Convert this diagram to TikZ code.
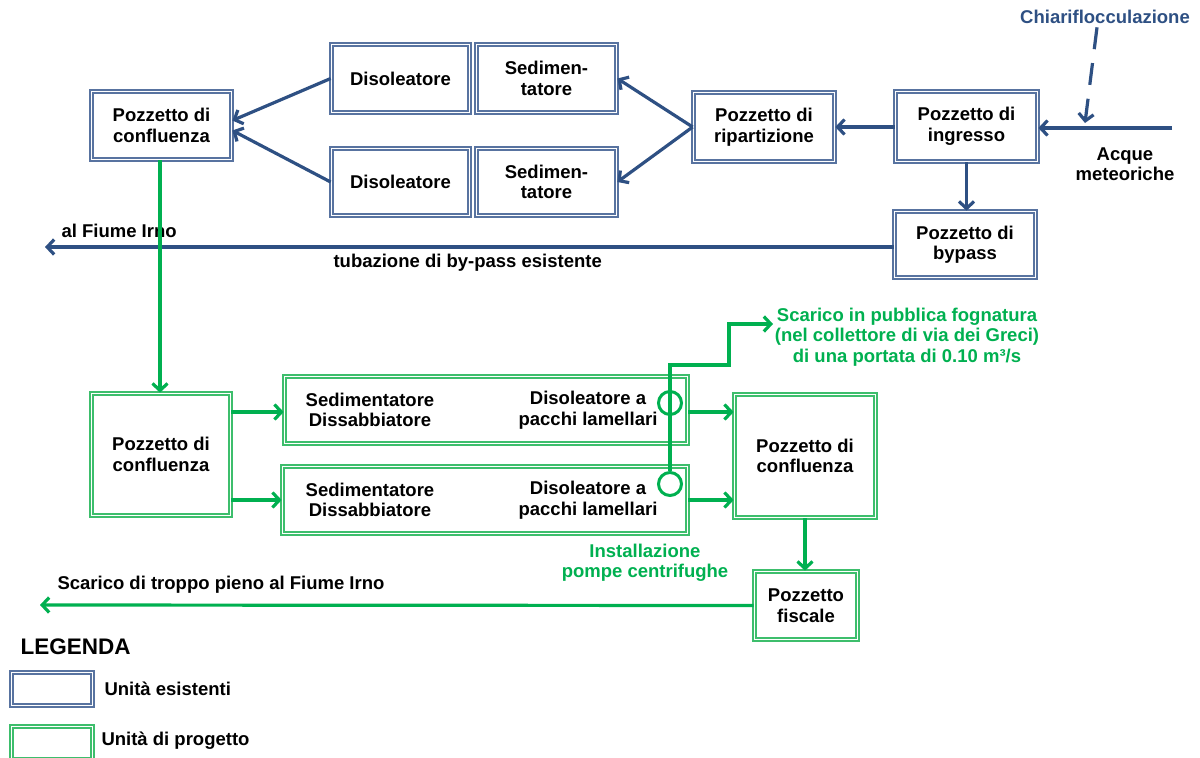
\documentclass[tikz,border=0pt]{standalone}
\usepackage{fontspec}
\setmainfont{Liberation Sans}
\usetikzlibrary{arrows.meta}
\definecolor{oldline}{HTML}{2E5083}
\definecolor{oldframe}{HTML}{5873A0}
\definecolor{newline}{HTML}{00B050}
\definecolor{newframe}{HTML}{3DBE6C}
\tikzset{
  unitbox/.style={double=white, double distance=1.2pt, line width=1.7pt, inner sep=2pt},
  oldbox/.style={unitbox, draw=oldframe},
  newbox/.style={unitbox, draw=newframe},
  oldflow/.style={draw=oldline, line width=3.2pt, -{Straight Barb[length=7pt,width=15pt]}},
  newflow/.style={draw=newline, line width=3.2pt, -{Straight Barb[length=7pt,width=15pt]}},
  pump/.style={circle, draw=newline, line width=3pt, minimum size=23pt, inner sep=0pt}
}
\begin{document}
\begin{tikzpicture}[x=1pt, y=-1pt,
  every node/.style={font=\bfseries\fontsize{18.5}{20.5}\selectfont, align=center}]
  \useasboundingbox (0,0) rectangle (1200,758);
  % unita esistenti
  \node[oldbox, minimum width=140, minimum height=68] (conf1) at (161.5,125.5) {Pozzetto di\\confluenza};
  \node[oldbox, minimum width=138, minimum height=68] (diso1) at (400.5,78.5) {Disoleatore};
  \node[oldbox, minimum width=140, minimum height=68] (sed1) at (546.5,78.5) {Sedimen-\\tatore};
  \node[oldbox, minimum width=138, minimum height=67] (diso2) at (400.5,182) {Disoleatore};
  \node[oldbox, minimum width=140, minimum height=67] (sed2) at (546.5,182) {Sedimen-\\tatore};
  \node[oldbox, minimum width=141, minimum height=69] (ripart) at (764,127) {Pozzetto di\\ripartizione};
  \node[oldbox, minimum width=142, minimum height=70] (ingresso) at (966.5,126.5) {Pozzetto di\\ingresso};
  \node[oldbox, minimum width=141, minimum height=66] (bypass) at (965,244.5) {Pozzetto di\\bypass};
  \node[text=oldline] (chiari) at (1105,17) {Chiariflocculazione};
  \node (meteo) at (1125,164) {Acque\\meteoriche};
  \coordinate (inlet) at (1172,128);
  \coordinate (dose) at (1085,123);
  \coordinate (irno1) at (45,247);
  \draw[oldflow] (inlet) -- (ingresso.east |- inlet);
  \draw[oldflow, dash pattern=on 22pt off 14pt] ([xshift=-8pt]chiari.south) -- (dose);
  \draw[oldflow] (ingresso.west |- ripart) -- (ripart.east);
  \draw[oldflow] (ingresso.south) -- (ingresso.south |- bypass.north);
  \draw[oldflow] (ripart.west) -- (sed1.east);
  \draw[oldflow] (ripart.west) -- (sed2.east);
  \draw[oldflow] (diso1.west) -- ([yshift=5pt]conf1.east);
  \draw[oldflow] (diso2.west) -- ([yshift=-5pt]conf1.east);
  \draw[oldflow] (bypass.west |- irno1) -- (irno1);
  \node[anchor=west] (irnolbl) at (58,231) {al Fiume Irno};
  \node[anchor=west] (bypasslbl) at (330,263) {tubazione di by-pass esistente};
  % unita di progetto
  \node[newbox, minimum width=139, minimum height=122] (conf2) at (161,454.5) {Pozzetto di\\confluenza};
  \node[newbox, minimum width=403, minimum height=67] (lam1) at (486,410) {};
  \node[newbox, minimum width=405, minimum height=67] (lam2) at (485,500) {};
  \node (sedlbl1) at (370,410) {Sedimentatore\\Dissabbiatore};
  \node (sedlbl2) at (370,500) {Sedimentatore\\Dissabbiatore};
  \node (dislbl1) at (588,410) {Disoleatore a\\pacchi lamellari};
  \node (dislbl2) at (588,500) {Disoleatore a\\pacchi lamellari};
  \node[newbox, minimum width=141, minimum height=123] (conf3) at (805,456) {Pozzetto di\\confluenza};
  \node[newbox, minimum width=103, minimum height=68] (fiscale) at (806,605.5) {Pozzetto\\fiscale};
  \node[pump] (pump1) at (670,403) {};
  \node[pump] (pump2) at (670,484) {};
  \coordinate (fogna) at (773,324);
  \coordinate (irno2) at (40,605);
  \draw[newflow] (conf1.south -| 160,0) -- (conf2.north -| 160,0);
  \draw[newflow] (conf2.east |- 0,412) -- (lam1.west |- 0,412);
  \draw[newflow] (conf2.east |- 0,500) -- (lam2.west |- 0,500);
  \draw[newflow] (lam1.east |- 0,412) -- (conf3.west |- 0,412);
  \draw[newflow] (lam2.east |- 0,500) -- (conf3.west |- 0,500);
  \draw[newflow] (pump2.north) |- (729,365) |- (fogna);
  \draw[newflow] (conf3.south) -- (conf3.south |- fiscale.north);
  \draw[newflow] (fiscale.west) -- (irno2);
  \node[text=newline] (fognalbl) at (907,337) {Scarico in pubblica fognatura\\(nel collettore di via dei Greci)\\di una portata di 0.10 m³/s};
  \node[text=newline] (pumplbl) at (645,563) {Installazione\\pompe centrifughe};
  \node[anchor=west] (troppolbl) at (54,585) {Scarico di troppo pieno al Fiume Irno};
  % legenda
  \node[anchor=west, font=\bfseries\fontsize{22.5}{24}\selectfont] (legenda) at (17,647) {LEGENDA};
  \node[oldbox, minimum width=81, minimum height=33] (leg1) at (52,689) {};
  \node[newbox, minimum width=81, minimum height=33] (leg2) at (52,743) {};
  \node[anchor=west] (leg1lbl) at (101,689) {Unità esistenti};
  \node[anchor=west] (leg2lbl) at (98,741) {Unità di progetto};
\end{tikzpicture}
\end{document}
